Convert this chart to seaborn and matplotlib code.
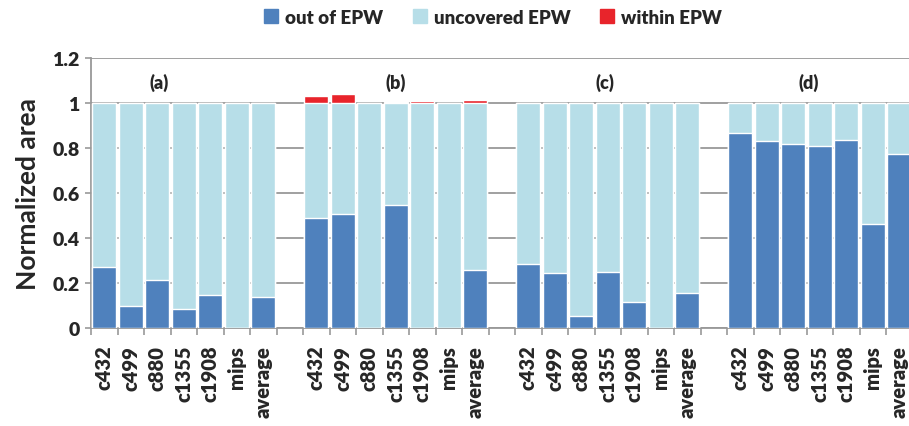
import numpy as np
import pandas as pd
import matplotlib
matplotlib.use("Agg")
import matplotlib.pyplot as plt
import seaborn as sns
from matplotlib.patches import Patch

# Benchmarks shown in each of the four panels
benchmarks = ["c432", "c499", "c880", "c1355", "c1908", "mips", "average"]
panels = ["(a)", "(b)", "(c)", "(d)"]

# Area outside the EPW, normalized
out_a = [0.272, 0.100, 0.215, 0.084, 0.148, 0.0, 0.136]
out_b = [0.490, 0.505, 0.0, 0.545, 0.0, 0.0, 0.257]
out_c = [0.284, 0.244, 0.053, 0.250, 0.114, 0.0, 0.157]
out_d = [0.865, 0.833, 0.818, 0.809, 0.834, 0.462, 0.772]

# Area lying within the EPW (overshoot above 1)
within_b = [0.030, 0.038, 0.002, 0.005, 0.009, 0.0, 0.014]

out_all = [out_a, out_b, out_c, out_d]
within_all = [[0.0] * 7, within_b, [0.0] * 7, [0.0] * 7]

C_OUT = "#4F81BD"
C_UNC = "#B7DEE8"
C_IN = "#E8242B"

sns.set_theme(style="white")
plt.rcParams["font.family"] = ["Lato", "DejaVu Sans"]
W = "heavy"

# Build long table: one slot per bar, an empty slot between panels
rows = []
pos = 0
label_pos = []
for p, (outs, ins) in enumerate(zip(out_all, within_all)):
    for b, o, w in zip(benchmarks, outs, ins):
        rows.append({"slot": pos, "bench": b, "panel": panels[p],
                     "out": o, "total": 1.0, "top": 1.0 + w})
        label_pos.append((pos, b))
        pos += 1
    pos += 1
df = pd.DataFrame(rows)
n_slots = 31

fig = plt.figure(figsize=(9.09, 4.27), dpi=100)
ax = fig.add_axes([91 / 909, (427 - 329) / 427, (31 * 26.5) / 909, 270 / 427])

order = list(range(n_slots))
bw = 0.92
sns.barplot(data=df, x="slot", y="top", order=order, color=C_IN, width=bw,
            ax=ax, saturation=1, zorder=2)
sns.barplot(data=df, x="slot", y="total", order=order, color=C_UNC, width=bw,
            ax=ax, saturation=1, zorder=3)
sns.barplot(data=df, x="slot", y="out", order=order, color=C_OUT, width=bw,
            ax=ax, saturation=1, zorder=4)

ax.set_xlim(-0.5, n_slots - 0.5)
ax.set_ylim(0, 1.2)
ax.set_yticks([0, 0.2, 0.4, 0.6, 0.8, 1.0, 1.2])
ax.set_yticklabels(["0", "0.2", "0.4", "0.6", "0.8", "1", "1.2"],
                   fontsize=14, fontweight=W)
ax.yaxis.grid(True, color="#999999", linewidth=1.3, zorder=0)
ax.set_axisbelow(True)

# Tick marks at slot boundaries, labels at bar centers
ax.set_xticks(np.arange(-0.5, n_slots, 1.0))
ax.set_xticklabels([])
ax.set_xticks([p for p, _ in label_pos], minor=True)
ax.set_xticklabels([b for _, b in label_pos], minor=True, rotation=90,
                   fontsize=14.5, fontweight=W)
ax.tick_params(axis="x", which="major", length=5, width=1.2, color="#999999",
               direction="out", bottom=True)
ax.tick_params(axis="x", which="minor", length=0, pad=12)
ax.tick_params(axis="y", length=4, width=1.2, color="#999999", left=True,
               pad=4)

for s in ["top", "right"]:
    ax.spines[s].set_visible(False)
for s in ["left", "bottom"]:
    ax.spines[s].set_color("#999999")
    ax.spines[s].set_linewidth(1.3)

ax.set_xlabel("")
ax.set_ylabel("Normalized area", fontsize=19, fontweight="bold",
              labelpad=9)

for x, t in zip([2.07, 11.0, 18.9, 26.6], panels):
    ax.text(x, 1.093, t, ha="center", va="center", fontsize=13,
            fontweight=W)

handles = [Patch(color=C_OUT, label="out of EPW"),
           Patch(color=C_UNC, label="uncovered EPW"),
           Patch(color=C_IN, label="within EPW")]
leg = fig.legend(handles=handles, loc="center", bbox_to_anchor=(493 / 909, 1 - 18 / 427),
                 ncol=3, frameon=False, prop={"weight": W, "size": 13.5},
                 handlelength=0.75, handleheight=0.75, handletextpad=0.35,
                 columnspacing=1.6)

fig.savefig("out.png", dpi=100)
